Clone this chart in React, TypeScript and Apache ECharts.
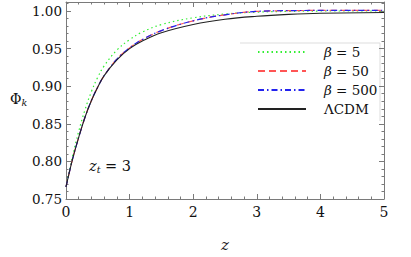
import React, { useEffect, useRef } from "react";
import * as echarts from "echarts";

const zValues = [0, 0.1, 0.2, 0.3, 0.4, 0.5, 0.6, 0.8, 1.0, 1.2, 1.5, 2.0, 2.5, 3.0, 3.5, 4.0, 5.0];
const beta5 = [0.766, 0.806, 0.840, 0.869, 0.893, 0.912, 0.927, 0.948, 0.962, 0.972, 0.982, 0.991, 0.996, 0.9985, 0.9995, 1.0, 1.0];
const beta50 = [0.766, 0.802, 0.832, 0.859, 0.881, 0.899, 0.914, 0.936, 0.951, 0.962, 0.974, 0.987, 0.995, 0.9995, 1.0005, 1.0008, 1.001];
const beta500 = [0.766, 0.802, 0.832, 0.859, 0.881, 0.899, 0.914, 0.936, 0.951, 0.962, 0.974, 0.987, 0.995, 0.9995, 1.0005, 1.0008, 1.001];
const lcdm = [0.766, 0.802, 0.832, 0.859, 0.881, 0.899, 0.914, 0.935, 0.950, 0.960, 0.971, 0.982, 0.989, 0.993, 0.9955, 0.997, 0.998];

const xTicks = [0, 1, 2, 3, 4, 5];
const yTickLabels = ["0.75", "0.80", "0.85", "0.90", "0.95", "1.00"];

const FONT = "DejaVu Serif";
const FRAME = "#7a7a7a";

function pair(ys: number[]) {
  return zValues.map((z, i) => [z, ys[i]]);
}

export default function App() {
  const ref = useRef<HTMLDivElement>(null);
  useEffect(() => {
    document.body.style.margin = "0";
    const chart = echarts.init(ref.current!, null, { renderer: "svg" });
    const yMin = 0.75;
    const yMax = 1.012;
    const xAxisBase = {
      type: "value",
      min: xTicks[0],
      max: xTicks[xTicks.length - 1],
      interval: 1,
      splitLine: { show: false },
      axisLine: { show: true, lineStyle: { color: FRAME, width: 1 } },
      axisTick: { show: true, inside: true, length: 5, lineStyle: { color: FRAME } },
      minorTick: { show: true, splitNumber: 5, length: 2.5, lineStyle: { color: FRAME } },
    };
    const yMajor = {
      type: "value",
      min: yMin,
      max: yMax,
      interval: 0.05,
      splitLine: { show: false },
      axisLine: { show: true, lineStyle: { color: FRAME, width: 1 } },
      axisTick: { show: true, inside: true, length: 5, lineStyle: { color: FRAME } },
    };
    const yMinor = {
      type: "value",
      min: yMin,
      max: yMax,
      interval: 0.01,
      splitLine: { show: false },
      axisLine: { show: false },
      axisLabel: { show: false },
      axisTick: { show: true, inside: true, length: 2.5, lineStyle: { color: FRAME } },
    };
    const mkSeries = (name: string, data: number[], color: string, type: any, width: number) => ({
      name,
      type: "line",
      xAxisIndex: 0,
      yAxisIndex: 0,
      data: pair(data),
      smooth: 0.4,
      symbol: "none",
      showSymbol: false,
      lineStyle: { color, type, width },
      itemStyle: { color },
    });
    chart.setOption({
      animation: false,
      textStyle: { fontFamily: FONT },
      grid: { left: 66, right: 27, top: 2, bottom: 58 },
      xAxis: [
        {
          ...xAxisBase,
          position: "bottom",
          name: "z",
          nameLocation: "middle",
          nameGap: 38,
          nameTextStyle: { fontFamily: FONT, fontSize: 15, fontStyle: "italic", color: "#222" },
          axisLabel: { show: true, margin: 6, fontFamily: FONT, fontSize: 14, color: "#111" },
        },
        { ...xAxisBase, position: "top", axisLabel: { show: false } },
      ],
      yAxis: [
        {
          ...yMajor,
          position: "left",
          axisLabel: {
            show: true,
            margin: 4,
            fontFamily: FONT,
            fontSize: 13.5,
            color: "#111",
            formatter: (v: number) => {
              const s = v.toFixed(2);
              return yTickLabels.indexOf(s) >= 0 && Math.abs(v - parseFloat(s)) < 1e-6 ? s : "";
            },
          },
        },
        { ...yMinor, position: "left" },
        { ...yMajor, position: "right", axisLabel: { show: false } },
        { ...yMinor, position: "right" },
      ],
      legend: {
        orient: "vertical",
        left: 252,
        top: 39,
        itemWidth: 48,
        itemHeight: 12,
        itemGap: 3,
        itemStyle: { opacity: 0 },
        data: ["β5", "β50", "β500", "ΛCDM"],
        formatter: (name: string) => {
          if (name === "ΛCDM") return "ΛCDM";
          return "{i|β} = " + name.slice(1);
        },
        textStyle: {
          fontFamily: FONT,
          fontSize: 13.5,
          lineHeight: 16,
          color: "#111",
          padding: [0, 0, 0, 13],
          rich: {
            i: { fontFamily: FONT, fontSize: 13.5, lineHeight: 16, fontStyle: "italic", color: "#111" },
          },
        },
      },
      graphic: [
        {
          type: "polyline",
          shape: { points: [[240, 43], [380, 43], [380, 121]] },
          style: { stroke: "#dddddd", lineWidth: 1, fill: null },
          silent: true,
        },
        {
          type: "text",
          left: 10,
          top: 92,
          style: {
            text: "{a|Φ}{k|k}",
            fontFamily: FONT,
            rich: {
              a: { fontFamily: FONT, fontSize: 14, fill: "#111" },
              k: { fontFamily: FONT, fontSize: 9.5, fontStyle: "italic", fill: "#111", padding: [7, 0, 0, 0] },
            },
          },
        },
        {
          type: "text",
          left: 89,
          top: 158,
          style: {
            text: "{a|z}{t|t}{b| = 3}",
            fontFamily: FONT,
            rich: {
              a: { fontFamily: FONT, fontSize: 14.5, fontStyle: "italic", fill: "#111" },
              t: { fontFamily: FONT, fontSize: 9.5, fontStyle: "italic", fill: "#111", padding: [7, 0, 0, 0] },
              b: { fontFamily: FONT, fontSize: 14.5, fill: "#111" },
            },
          },
        },
      ],
      series: [
        mkSeries("β5", beta5, "#33ee33", [1.5, 3], 1.2),
        mkSeries("β50", beta50, "#ff5555", [7, 4], 1.2),
        mkSeries("β500", beta500, "#2222ee", [6, 3, 1.5, 3], 1.2),
        mkSeries("ΛCDM", lcdm, "#222222", "solid", 1.1),
      ],
    });
    return () => chart.dispose();
  }, []);
  return <div ref={ref} style={{ width: 411, height: 257 }} />;
}
